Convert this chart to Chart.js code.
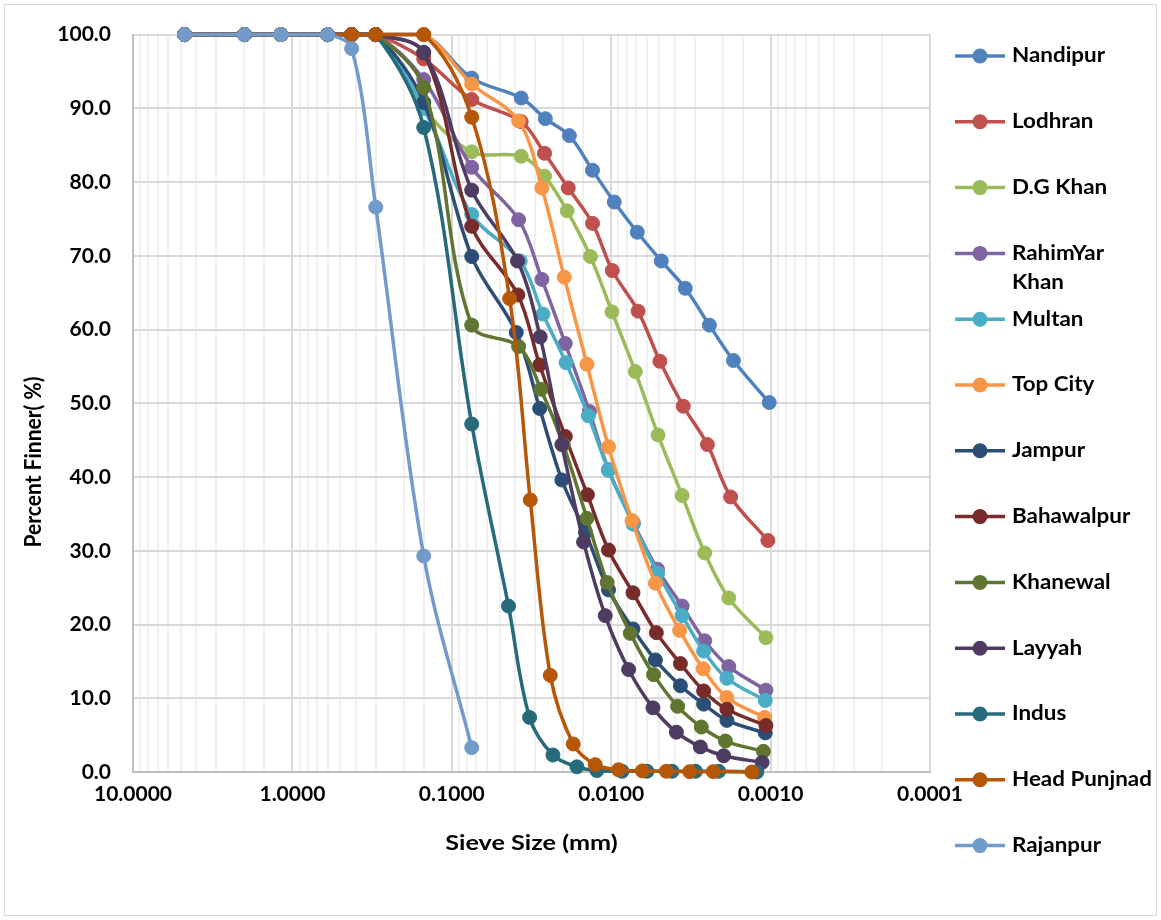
<!DOCTYPE html>
<html>
<head>
<meta charset="utf-8">
<script src="https://cdn.jsdelivr.net/npm/chart.js@4.4.1/dist/chart.umd.min.js"></script>
<style>
  html, body { margin: 0; padding: 0; background: #ffffff; }
  #wrap { width: 1161px; height: 920px; position: relative; }
</style>
</head>
<body>
<div id="wrap"><canvas id="grading" width="1161" height="920"></canvas></div>
<script>
// Particle size distribution: sieve sizes (mm) followed by hydrometer diameters (mm)
const siteNames = ['Nandipur', 'Lodhran', 'D.G Khan', 'RahimYar Khan', 'Multan', 'Top City',
  'Jampur', 'Bahawalpur', 'Khanewal', 'Layyah', 'Indus', 'Head Punjnad', 'Rajanpur'];

const siteColors = ['#4F81BD', '#C0504D', '#9BBB59', '#8064A2', '#4BACC6', '#F79646',
  '#2C4D75', '#772C2A', '#5F7530', '#4D3B62', '#276A7C', '#B65708', '#729ACA'];

const sieveSizes = [4.75, 2.0, 1.18, 0.6, 0.425, 0.3, 0.15, 0.075];

const nandipurDia = [0.0367, 0.0259, 0.0183, 0.0131, 0.00957, 0.00686, 0.00485, 0.00343, 0.00242, 0.00171, 0.00102];
const nandipurPct = [100, 100, 100, 100, 100, 100, 100, 94.1, 91.4, 88.6, 86.3, 81.6, 77.3, 73.2, 69.3, 65.6, 60.6, 55.8, 50.1];

const lodhranDia = [0.0367, 0.0262, 0.0186, 0.0131, 0.00984, 0.00678, 0.00495, 0.00353, 0.00249, 0.00178, 0.00104];
const lodhranPct = [100, 100, 100, 100, 100, 100, 96.7, 91.2, 88.2, 83.9, 79.2, 74.4, 68.0, 62.5, 55.7, 49.6, 44.4, 37.3, 31.4];

const dgKhanDia = [0.0367, 0.0262, 0.0189, 0.0135, 0.00989, 0.00706, 0.00508, 0.00359, 0.00259, 0.00183, 0.00107];
const dgKhanPct = [100, 100, 100, 100, 100, 100, 90.0, 84.1, 83.5, 80.8, 76.1, 69.9, 62.4, 54.3, 45.7, 37.5, 29.7, 23.6, 18.2];

const rahimYarKhanDia = [0.0381, 0.0272, 0.0194, 0.0137, 0.0104, 0.00727, 0.00513, 0.00359, 0.00259, 0.00183, 0.00107];
const rahimYarKhanPct = [100, 100, 100, 100, 100, 100, 93.9, 82.0, 74.9, 66.8, 58.1, 48.9, 41.0, 33.8, 27.5, 22.5, 17.8, 14.3, 11.1];

const multanDia = [0.0372, 0.0268, 0.0192, 0.0139, 0.0104, 0.00727, 0.00511, 0.00359, 0.00263, 0.00188, 0.00108];
const multanPct = [100, 100, 100, 100, 100, 100, 90.0, 75.6, 69.3, 62.1, 55.5, 48.3, 40.9, 33.6, 27.0, 21.2, 16.4, 12.7, 9.7];

const topCityDia = [0.0381, 0.0272, 0.0197, 0.0142, 0.0104, 0.0074, 0.00528, 0.00372, 0.00265, 0.00188, 0.00109];
const topCityPct = [100, 100, 100, 100, 100, 100, 100, 93.3, 88.3, 79.2, 67.1, 55.3, 44.1, 34.1, 25.6, 19.2, 14.0, 10.1, 7.4];

const jampurDia = [0.0394, 0.0281, 0.0204, 0.0145, 0.0104, 0.0073, 0.00528, 0.00368, 0.00263, 0.00188, 0.00108];
const jampurPct = [100, 100, 100, 100, 100, 100, 90.8, 69.9, 59.6, 49.3, 39.6, 32.5, 24.7, 19.4, 15.2, 11.7, 9.2, 7.0, 5.3];

const bahawalpurDia = [0.0385, 0.0281, 0.0194, 0.0141, 0.0104, 0.0073, 0.00521, 0.00368, 0.00263, 0.00188, 0.00107];
const bahawalpurPct = [100, 100, 100, 100, 100, 100, 97.5, 74.0, 64.7, 55.2, 45.5, 37.6, 30.1, 24.3, 18.9, 14.7, 11.0, 8.5, 6.3];

const khanewalDia = [0.0381, 0.0276, 0.0200, 0.0142, 0.0106, 0.00759, 0.00542, 0.00383, 0.00272, 0.00192, 0.00111];
const khanewalPct = [100, 100, 100, 100, 100, 100, 92.8, 60.6, 57.7, 51.9, 44.4, 34.4, 25.7, 18.8, 13.2, 8.9, 6.1, 4.2, 2.8];

const layyahDia = [0.0387, 0.0279, 0.0204, 0.0149, 0.0109, 0.00778, 0.00547, 0.0039, 0.00276, 0.00197, 0.00113];
const layyahPct = [100, 100, 100, 100, 100, 100, 97.6, 78.9, 69.3, 59.0, 44.4, 31.2, 21.2, 13.9, 8.7, 5.4, 3.4, 2.2, 1.3];

const indusDia = [0.0441, 0.0325, 0.0232, 0.0164, 0.0123, 0.00855, 0.00596, 0.00415, 0.00296, 0.00212, 0.00122];
const indusPct = [100, 100, 100, 100, 100, 100, 87.4, 47.2, 22.5, 7.4, 2.3, 0.7, 0.2, 0.1, 0.1, 0.1, 0.1, 0.1, 0.0];

const headPunjnadDia = [0.0434, 0.0322, 0.0241, 0.0173, 0.0126, 0.0090, 0.00638, 0.00451, 0.00322, 0.00229, 0.00131];
const headPunjnadPct = [100, 100, 100, 100, 100, 100, 100, 88.8, 64.2, 36.9, 13.1, 3.8, 1.0, 0.3, 0.15, 0.1, 0.05, 0.05, 0.0];

const rajanpurDia = [];
const rajanpurPct = [100, 100, 100, 100, 98.1, 76.6, 29.3, 3.3];

const xTickValues = [10, 1, 0.1, 0.01, 0.001, 0.0001];
const yTitle = 'Percent Finner( %)';
const xTitle = 'Sieve Size (mm)';

const siteSeries = [
  [nandipurDia, nandipurPct], [lodhranDia, lodhranPct], [dgKhanDia, dgKhanPct],
  [rahimYarKhanDia, rahimYarKhanPct], [multanDia, multanPct], [topCityDia, topCityPct],
  [jampurDia, jampurPct], [bahawalpurDia, bahawalpurPct], [khanewalDia, khanewalPct],
  [layyahDia, layyahPct], [indusDia, indusPct], [headPunjnadDia, headPunjnadPct],
  [rajanpurDia, rajanpurPct]
];

const FONT = 'Lato, "Liberation Sans", sans-serif';

function isDecade(v) {
  return xTickValues.some(t => Math.abs(t - v) / t < 1e-6);
}

const datasets = siteSeries.map(([dia, pct], i) => {
  const sizes = sieveSizes.concat(dia);
  return {
    label: siteNames[i],
    data: pct.map((p, k) => ({ x: sizes[k], y: p })),
    borderColor: siteColors[i],
    backgroundColor: siteColors[i],
    pointBackgroundColor: siteColors[i],
    pointBorderColor: siteColors[i],
    borderWidth: 3.5,
    pointRadius: 7,
    pointBorderWidth: 1,
    tension: 0.35,
    order: -i,
    clip: false
  };
});

// draws text widened horizontally, the way the chart's labels are set
function wideText(ctx, text, x, y, sx, align) {
  ctx.save();
  ctx.translate(x, y);
  ctx.scale(sx, 1);
  ctx.textAlign = align;
  ctx.fillText(text, 0, 0);
  ctx.restore();
}

// Legend, axis titles and outer frame drawn straight onto the canvas
const decorations = {
  id: 'decorations',
  afterDraw(chart) {
    const ctx = chart.ctx;
    ctx.save();
    // outer frame
    ctx.strokeStyle = '#d9d9d9';
    ctx.lineWidth = 1;
    ctx.strokeRect(4.5, 4.5, 1152, 911);

    ctx.fillStyle = '#000000';
    ctx.textBaseline = 'middle';
    // y axis title
    ctx.font = 'bold 21px ' + FONT;
    ctx.save();
    ctx.translate(34, 462);
    ctx.rotate(-Math.PI / 2);
    ctx.scale(1, 1.1);
    ctx.textAlign = 'center';
    ctx.fillText(yTitle, 0, 0);
    ctx.restore();
    // x axis title
    ctx.font = 'bold 21px ' + FONT;
    wideText(ctx, xTitle, (chart.chartArea.left + chart.chartArea.right) / 2, 843, 1.2, 'center');

    // legend
    const lx0 = 955, lx1 = 1005, tx = 1012, maxW = 129;
    const top = 56, step = 65.8, lineGap = 29;
    ctx.font = 'bold 20px ' + FONT;
    chart.data.datasets.forEach((ds, i) => {
      const y = top + i * step;
      ctx.strokeStyle = ds.borderColor;
      ctx.lineWidth = 3.5;
      ctx.beginPath();
      ctx.moveTo(lx0, y);
      ctx.lineTo(lx1, y);
      ctx.stroke();
      ctx.fillStyle = ds.borderColor;
      ctx.beginPath();
      ctx.arc((lx0 + lx1) / 2, y, 7.5, 0, Math.PI * 2);
      ctx.fill();
      ctx.fillStyle = '#000000';
      const words = ds.label.split(' ');
      const lines = [];
      let cur = '';
      words.forEach(w => {
        const test = cur ? cur + ' ' + w : w;
        if (cur && ctx.measureText(test).width > maxW) { lines.push(cur); cur = w; } else { cur = test; }
      });
      lines.push(cur);
      lines.forEach((ln, k) => wideText(ctx, ln, tx, y + k * lineGap, 1.12, 'left'));
    });
    ctx.restore();
  }
};

new Chart(document.getElementById('grading'), {
  type: 'line',
  data: { datasets },
  plugins: [decorations],
  options: {
    responsive: false,
    animation: false,
    devicePixelRatio: 1,
    layout: { padding: { left: 0, top: 34, right: 231, bottom: 88 } },
    plugins: { legend: { display: false }, tooltip: { enabled: false } },
    scales: {
      x: {
        type: 'logarithmic',
        reverse: true,
        min: 0.0001,
        max: 10,
        border: { color: '#bfbfbf', width: 2 },
        grid: {
          drawTicks: false,
          lineWidth: 2,
          color: c => (c.tick && isDecade(c.tick.value)) ? '#d9d9d9' : '#f0f0f0'
        },
        ticks: {
          autoSkip: false,
          maxRotation: 0,
          minRotation: 0,
          padding: 10,
          color: '#000000',
          font: { family: FONT, size: 21, weight: 'bold' },
          callback: v => isDecade(v) ? Number(v).toFixed(4) : ''
        },
        afterFit: s => { s.height = 60; }
      },
      y: {
        min: 0,
        max: 100,
        border: { color: '#bfbfbf', width: 2 },
        grid: { drawTicks: false, lineWidth: 2, color: '#d9d9d9' },
        ticks: {
          stepSize: 10,
          padding: 22,
          color: '#000000',
          font: { family: FONT, size: 21, weight: 'bold' },
          callback: v => Number(v).toFixed(1)
        },
        afterFit: s => { s.width = 133; }
      }
    }
  }
});
</script>
</body>
</html>
